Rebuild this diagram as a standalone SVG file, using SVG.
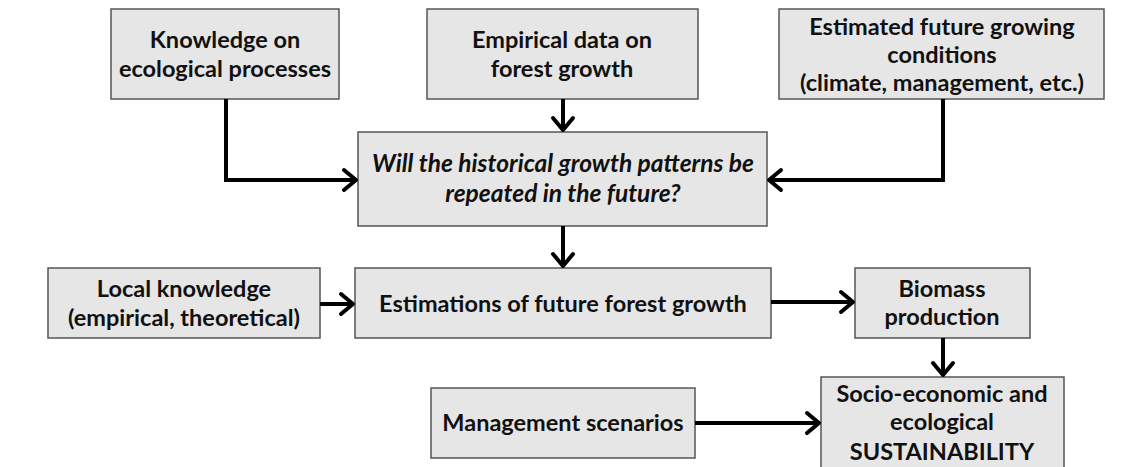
<svg xmlns="http://www.w3.org/2000/svg" width="1140" height="467" viewBox="0 0 1140 467">
<defs>
<style>
.box{fill:#e6e6e6;stroke:#555;stroke-width:1.5}
.t{font-family:Lato,"Open Sans",sans-serif;font-weight:bold;font-size:23.5px;fill:#111;text-anchor:middle}
.i{font-style:italic;font-size:24.5px}
.c{fill:none;stroke:#000;stroke-width:4}
.h{fill:none;stroke:#000;stroke-width:4;stroke-linecap:round;stroke-linejoin:round}
</style>
</defs>
<rect width="1140" height="467" fill="#fff"/>
<g id="n1"><rect class="box" x="111" y="9" width="228" height="90"/><text class="t" x="225" y="48">Knowledge on</text><text class="t" x="225" y="77">ecological processes</text></g>
<g id="n2"><rect class="box" x="427" y="9" width="271" height="90"/><text class="t" x="562" y="48">Empirical data on</text><text class="t" x="562" y="77">forest growth</text></g>
<g id="n3"><rect class="box" x="779" y="9" width="325" height="90"/><text class="t" x="942" y="35">Estimated future growing</text><text class="t" x="942" y="63">conditions</text><text class="t" x="942" y="91">(climate, management, etc.)</text></g>
<g id="n4"><rect class="box" x="358" y="132" width="409" height="94"/><text class="t i" x="563" y="172">Will the historical growth patterns be</text><text class="t i" x="563" y="202">repeated in the future?</text></g>
<g id="n5"><rect class="box" x="48" y="268" width="272" height="70"/><text class="t" x="184" y="297">Local knowledge</text><text class="t" x="184" y="326">(empirical, theoretical)</text></g>
<g id="n6"><rect class="box" x="355" y="268" width="416" height="70"/><text class="t" x="563" y="312">Estimations of future forest growth</text></g>
<g id="n7"><rect class="box" x="855" y="268" width="175" height="70"/><text class="t" x="942" y="297">Biomass</text><text class="t" x="942" y="325">production</text></g>
<g id="n8"><rect class="box" x="431" y="388" width="264" height="70"/><text class="t" x="563" y="431">Management scenarios</text></g>
<g id="n9"><rect class="box" x="821" y="377" width="243" height="96"/><text class="t" x="942" y="402">Socio-economic and</text><text class="t" x="942" y="430">ecological</text><text class="t" x="942" y="460">SUSTAINABILITY</text></g>
<g id="connectors">
<polyline class="c" points="226,99 226,180 356,180"/>
<polyline class="h" points="344,170 356,180 344,190"/>
<line class="c" x1="563" y1="99" x2="563" y2="130"/>
<polyline class="h" points="553,118 563,130 573,118"/>
<polyline class="c" points="943,99 943,180 769,180"/>
<polyline class="h" points="781,170 769,180 781,190"/>
<line class="c" x1="563" y1="226" x2="563" y2="266"/>
<polyline class="h" points="553,254 563,266 573,254"/>
<line class="c" x1="320" y1="304" x2="353" y2="304"/>
<polyline class="h" points="341,294 353,304 341,314"/>
<line class="c" x1="771" y1="302" x2="853" y2="302"/>
<polyline class="h" points="841,292 853,302 841,312"/>
<line class="c" x1="943" y1="338" x2="943" y2="375"/>
<polyline class="h" points="933,363 943,375 953,363"/>
<line class="c" x1="695" y1="423" x2="819" y2="423"/>
<polyline class="h" points="807,413 819,423 807,433"/>
</g>
</svg>
